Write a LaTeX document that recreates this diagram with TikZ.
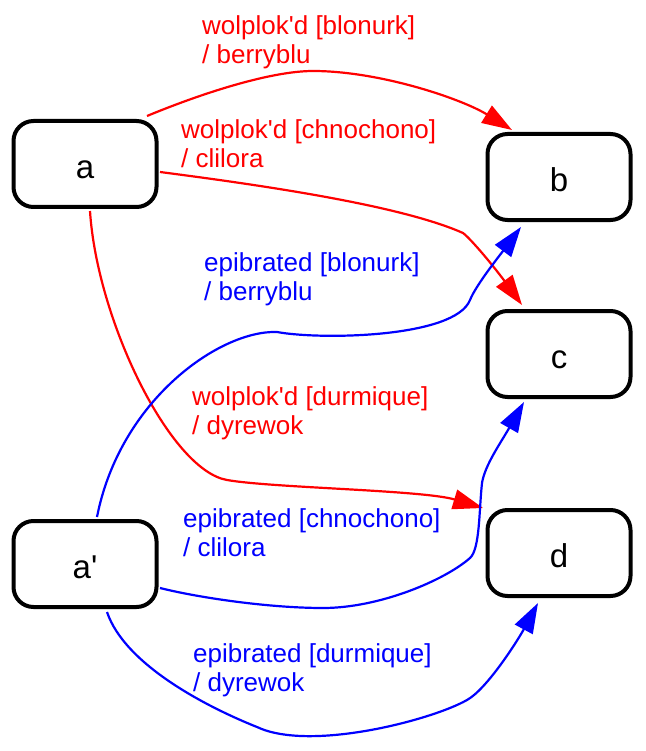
\documentclass[tikz,border=0pt]{standalone}
\usepackage{fontspec}
\setmainfont{Liberation Sans}
\usetikzlibrary{arrows.meta}
\newcommand\apos{\textquotesingle}
\begin{document}
\begin{tikzpicture}[x=1pt,y=-1pt,
  state/.style={draw,line width=4pt,rounded corners=20pt,minimum width=143pt,minimum height=86pt,inner sep=0pt,font=\fontsize{33}{36}\selectfont,text height=31pt,text depth=2pt},
  redge/.style={draw=red,line width=2.2pt,-{Triangle[length=30pt,width=20pt]}},
  bedge/.style={draw=blue,line width=2.2pt,-{Triangle[length=30pt,width=20pt]}},
  lab/.style={anchor=base west,inner sep=0pt,align=left,font=\fontsize{26}{29}\selectfont}]
\useasboundingbox (0,0) rectangle (645,751);
\node[state] (a) at (85,164) {a};
\node[state] (b) at (559,177) {b};
\node[state] (c) at (559,354) {c};
\node[state] (d) at (559,553) {d};
\node[state] (ap) at (85,564) {a\apos};
% red edges
\draw[redge] ([shift={(62,-48)}]a.center) .. controls (200,94) and (270,71) .. (313,71) .. controls (380,71) and (462,99) .. ([shift={(-47,-47)}]b.center);
\draw[redge] ([shift={(75,8)}]a.center) .. controls (260,185) and (400,205) .. (463,233) .. controls (472,240) and (495,268) .. ([shift={(-37,-49)}]c.center);
\draw[redge] ([shift={(5,47)}]a.center) .. controls (97,320) and (170,470) .. (227,480) .. controls (273,488) and (423,490) .. ([shift={(-76,-45)}]d.center);
% blue edges
\draw[bedge] ([shift={(12,-47)}]ap.center) .. controls (120,400) and (220,330) .. (277,332) .. controls (320,340) and (455,338) .. (470,300) .. controls (476,285) and (500,255) .. ([shift={(-38,50)}]b.center);
\draw[bedge] ([shift={(75,24)}]ap.center) .. controls (200,598) and (270,608) .. (323,608) .. controls (380,608) and (445,580) .. (470,558) .. controls (480,549) and (479,510) .. (482,483) .. controls (485,465) and (500,444) .. ([shift={(-35,48)}]c.center);
\draw[bedge] ([shift={(22,48)}]ap.center) .. controls (125,665) and (207,707) .. (257,727) .. controls (310,752) and (432,720) .. (467,700) .. controls (487,689) and (518,640) .. ([shift={(-21,50)}]d.center);
% labels (anchored at the baseline of the last line)
\node[lab,text=red] (l1) at (202,64) {wolplok\apos d [blonurk]\\/ berryblu};
\node[lab,text=red] (l2) at (181,168) {wolplok\apos d [chnochono]\\/ clilora};
\node[lab,text=blue] (l3) at (204,300) {epibrated [blonurk]\\/ berryblu};
\node[lab,text=red] (l4) at (192,434) {wolplok\apos d [durmique]\\/ dyrewok};
\node[lab,text=blue] (l5) at (183,556) {epibrated [chnochono]\\/ clilora};
\node[lab,text=blue] (l6) at (193,691) {epibrated [durmique]\\/ dyrewok};
\end{tikzpicture}
\end{document}
